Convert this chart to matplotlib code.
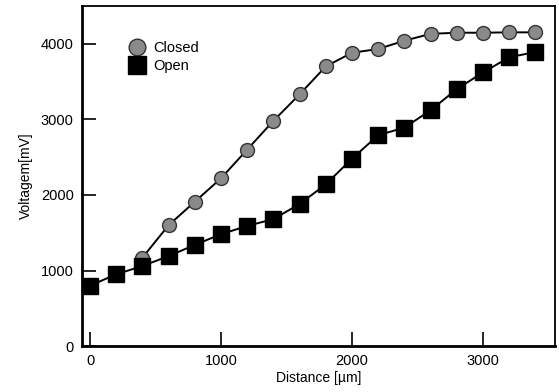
import numpy as np
import matplotlib.pyplot as plt
from matplotlib.lines import Line2D

plt.rcParams['font.family'] = ['Liberation Sans', 'DejaVu Sans']

# distance [um]
dist_open = [0, 200, 400, 600, 800, 1000, 1200, 1400, 1600, 1800,
             2000, 2200, 2400, 2600, 2800, 3000, 3200, 3400]
dist_closed = [400, 600, 800, 1000, 1200, 1400, 1600, 1800,
               2000, 2200, 2400, 2600, 2800, 3000, 3200, 3400]

# voltage [mV]
v_open = [800, 950, 1060, 1190, 1340, 1480, 1590, 1680, 1880, 2140,
          2480, 2790, 2890, 3120, 3400, 3620, 3820, 3890]
v_closed = [1170, 1600, 1910, 2220, 2600, 2980, 3330, 3700,
            3880, 3930, 4040, 4130, 4145, 4145, 4150, 4150]

closed_style = dict(marker='o', markerfacecolor='#8a8a8a',
                    markeredgecolor='#333333', markeredgewidth=1.0)
open_style = dict(marker='s', markerfacecolor='black',
                  markeredgecolor='black')

fig = plt.figure(figsize=(5.59, 3.92), dpi=100)
ax = fig.add_axes([0.147, 0.117, 0.846, 0.868])

ax.plot(dist_closed, v_closed, color='black', linewidth=1.4,
        markersize=10, **closed_style)
ax.plot(dist_open, v_open, color='black', linewidth=1.4,
        markersize=12, **open_style)

ax.set_xlim(-60, 3550)
ax.set_ylim(0, 4500)
ax.set_xticks([0, 1000, 2000, 3000])
ax.set_yticks([0, 1000, 2000, 3000, 4000])
ax.tick_params(direction='in', length=10, width=1.2, labelsize=10.5,
               pad=6)

for side in ['left', 'bottom']:
    ax.spines[side].set_linewidth(2)
for side in ['top', 'right']:
    ax.spines[side].set_linewidth(1.3)

ax.set_xlabel('Distance [\u00b5m]', fontsize=10, labelpad=2)
ax.set_ylabel('Voltagem[mV]', fontsize=10, labelpad=6)

# legend shows markers only
handles = [Line2D([], [], linestyle='none', markersize=12, **closed_style),
           Line2D([], [], linestyle='none', markersize=13, **open_style)]
ax.legend(handles, ['Closed', 'Open'], loc='upper left',
          bbox_to_anchor=(0.072, 0.935), frameon=False,
          fontsize=10.5, handlelength=1.0, handletextpad=0.65,
          labelspacing=0.25, numpoints=1)

plt.savefig('out.png', dpi=100)
